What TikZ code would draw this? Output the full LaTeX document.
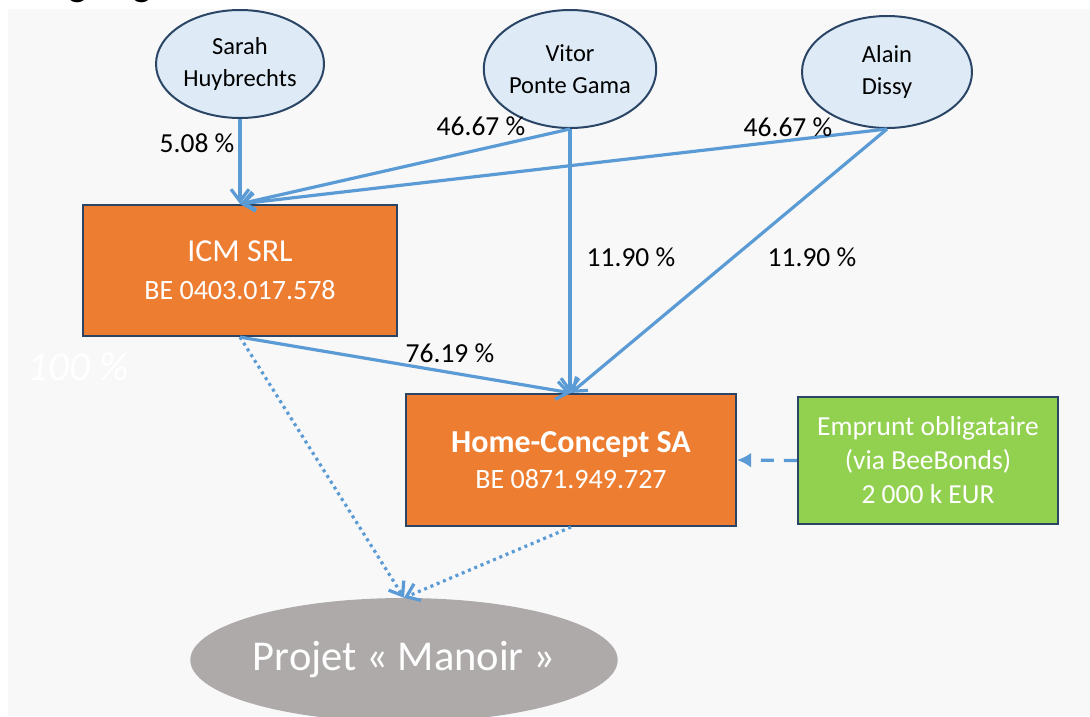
\documentclass[tikz,border=0pt]{standalone}
\usepackage{fontspec}
\setmainfont{Carlito}
\usetikzlibrary{shapes.geometric}
\usetikzlibrary{arrows.meta}

\definecolor{bggrey}{HTML}{F8F8F8}
\definecolor{boxline}{HTML}{2A4565}
\definecolor{personfill}{HTML}{DEEBF7}
\definecolor{icmorange}{HTML}{ED7D31}
\definecolor{bondgreen}{HTML}{92D050}
\definecolor{projgrey}{HTML}{AEAAAA}
\definecolor{linkblue}{HTML}{5B9BD5}

\begin{document}
\begin{tikzpicture}[
        x = 1pt, y = -1pt, % one unit per pixel, y downward
        > = {Straight Barb[length=12pt,width=18pt]}, % arrow head style
        person/.style = {ellipse, draw=boxline, line width=2pt, fill=personfill,
                         inner sep=0pt, align=center, font=\fontsize{24.5}{32}\selectfont},
        company/.style = {rectangle, draw=boxline, line width=2.2pt, fill=icmorange,
                          text=white, inner sep=0pt, align=center},
        pct/.style = {font=\fontsize{27.5}{30}\selectfont},
        holds/.style = {->, draw=linkblue, line width=3.2pt},
        flows/.style = {holds, dash pattern=on 3pt off 3.8pt},
        bondlink/.style = {-{Latex[length=14pt,width=15pt]}, draw=linkblue,
                           line width=3.2pt, dash pattern=on 13pt off 10pt}
        ]

  \useasboundingbox (0,0) rectangle (1090,716);
  \fill[white] (0,0) rectangle (1090,716);
  \fill[bggrey] (8,9) rectangle (1090,716);
  \node[anchor=base west, inner sep=0pt, font=\bfseries\fontsize{37}{40}\selectfont]
    (title) at (31,-4) {Organigramme};

  \node[person, minimum width=168pt, minimum height=108pt] (sarah) at (240,64) {Sarah\\Huybrechts};
  \node[person, minimum width=170pt, minimum height=118pt] (vitor) at (570,69) {Vitor\\Ponte Gama};
  \node[person, minimum width=170pt, minimum height=112pt] (alain) at (887,72) {Alain\\Dissy};

  \node[company, minimum width=314pt, minimum height=131pt, font=\fontsize{28}{38}\selectfont]
    (icm) at (240,270.5) {{\fontsize{32}{38}\selectfont ICM SRL}\\BE 0403.017.578};
  \node[company, minimum width=330pt, minimum height=132pt, font=\fontsize{28}{36}\selectfont]
    (hc) at (571,460) {{\bfseries\fontsize{32}{36}\selectfont Home-Concept SA}\\BE 0871.949.727};
  \node[company, fill=bondgreen, minimum width=260pt, minimum height=127pt, font=\fontsize{27.5}{34}\selectfont]
    (bond) at (928,460.5) {Emprunt obligataire\\(via BeeBonds)\\2 000 k EUR};

  \node[ellipse, fill=projgrey, text=white, inner sep=0pt, minimum width=418pt, minimum height=124pt,
        font=\fontsize{42.5}{46}\selectfont] (manoir) at (404,660) {Projet « Manoir »};

  \node[text=white, font=\itshape\fontsize{41}{44}\selectfont] (hundred) at (78,367) {100 \%};

  \draw[holds] (sarah) -- (icm.north);
  \draw[holds] (vitor.south) -- (icm.north);
  \draw[holds] (alain.south) -- (icm.north);
  \draw[holds] (vitor.south) -- (vitor.south |- hc.north);
  \draw[holds] (alain.south) -- (hc.north);
  \draw[holds] (icm.south) -- (hc.north);
  \draw[flows] (icm.south) -- (manoir.north);
  \draw[flows] (hc.south) -- (manoir.north);
  \draw[bondlink] (bond.west) -- (hc.east);

  \node[pct] (psarah) at (197,143) {5.08 \%};
  \node[pct] (pvitor) at (481,126) {46.67 \%};
  \node[pct] (palain) at (788,127) {46.67 \%};
  \node[pct] (pvitorhc) at (631,257) {11.90 \%};
  \node[pct] (palainhc) at (812,257) {11.90 \%};
  \node[pct] (picmhc) at (450,353) {76.19 \%};

\end{tikzpicture}
\end{document}
